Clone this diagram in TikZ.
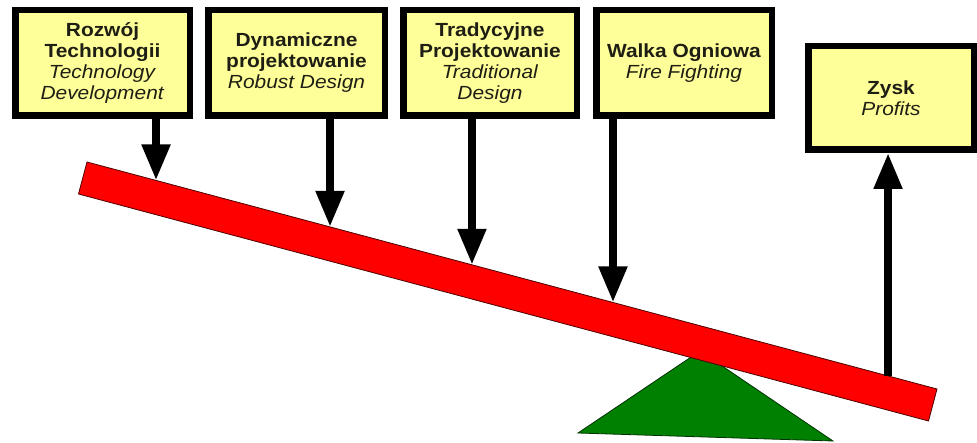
\documentclass[tikz,border=0pt]{standalone}
\usepackage{fontspec}
\setmainfont{Liberation Sans}[FakeStretch=1.1]
\usetikzlibrary{arrows.meta,calc}

\definecolor{notefill}{RGB}{255,255,153}
\definecolor{beamred}{RGB}{255,0,0}
\definecolor{pivotgreen}{RGB}{0,128,0}
\definecolor{notetext}{RGB}{30,30,20}

\tikzset{
  notebox/.style={draw=black, line width=6.5pt, fill=notefill, align=center,
    inner sep=0pt, text=notetext, font=\fontsize{19}{21}\selectfont},
  force/.style={line width=8pt, -{Triangle[width=27pt,length=36pt]}},
}

\begin{document}
\begin{tikzpicture}[x=1pt, y=-1pt]
  \useasboundingbox (0,0) rectangle (977,443);

  % pivot under the lever
  \coordinate (P1) at (700,351);
  \coordinate (P2) at (578,433);
  \coordinate (P3) at (833,441);
  \fill[pivotgreen, draw=black!80!green, line width=0.8pt] (P1) -- (P2) -- (P3) -- cycle;

  % the lever beam
  \coordinate (TL) at (87,162);
  \coordinate (TR) at (937,389);
  \coordinate (BR) at (928.5,421);
  \coordinate (BL) at (78.5,194);
  \fill[beamred, draw=black!70!red, line width=0.8pt] (TL) -- (TR) -- (BR) -- (BL) -- cycle;

  % points on the top edge where the forces act
  \coordinate (f1) at ($(TL)!0.0812!(TR)$);
  \coordinate (f2) at ($(TL)!0.2859!(TR)$);
  \coordinate (f3) at ($(TL)!0.4529!(TR)$);
  \coordinate (f4) at ($(TL)!0.6188!(TR)$);
  \coordinate (f5) at ($(TL)!0.9424!(TR)$);

  % labelled boxes
  \node[notebox, minimum width=174.5pt, minimum height=105.5pt] (b1) at (102.5,63)
    {\textbf{Rozwój}\\\textbf{Technologii}\\\textit{Technology}\\\textit{Development}};
  \node[notebox, minimum width=176.5pt, minimum height=105.5pt] (b2) at (296.5,63)
    {\textbf{Dynamiczne}\\\textbf{projektowanie}\\\textit{Robust Design}};
  \node[notebox, minimum width=173.5pt, minimum height=105.5pt] (b3) at (490,63)
    {\textbf{Tradycyjne}\\\textbf{Projektowanie}\\\textit{Traditional}\\\textit{Design}};
  \node[notebox, minimum width=175.5pt, minimum height=105.5pt] (b4) at (684,63)
    {\textbf{Walka Ogniowa}\\\textit{Fire Fighting}};
  \node[notebox, minimum width=165.5pt, minimum height=103.5pt] (zysk) at (891,98)
    {\textbf{Zysk}\\\textit{Profits}};

  % forces
  \draw[force] (b1.south -| f1) -- (f1);
  \draw[force] (b2.south -| f2) -- (f2);
  \draw[force] (b3.south -| f3) -- (f3);
  \draw[force] (b4.south -| f4) -- (f4);
  \draw[force] (f5) -- (f5 |- zysk.south);
\end{tikzpicture}
\end{document}
